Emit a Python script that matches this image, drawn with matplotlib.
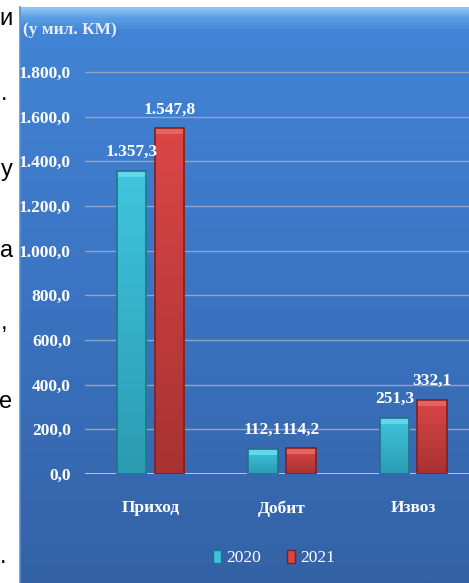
import numpy as np
import matplotlib.pyplot as plt
from matplotlib.colors import LinearSegmentedColormap
from matplotlib.patches import Patch, Rectangle

# data
categories = ['Приход', 'Добит', 'Извоз']
years = ['2020', '2021']
values_2020 = [1357.3, 112.1, 251.3]
values_2021 = [1547.8, 114.2, 332.1]
labels_2020 = ['1.357,3', '112,1', '251,3']
labels_2021 = ['1.547,8', '114,2', '332,1']
yticks = [0, 200, 400, 600, 800, 1000, 1200, 1400, 1600, 1800]
ytick_labels = ['0,0', '200,0', '400,0', '600,0', '800,0', '1.000,0',
                '1.200,0', '1.400,0', '1.600,0', '1.800,0']
unit_label = '(у мил. КМ)'

# line ends of the surrounding document text (left margin)
side_chars = ['и', '.', 'у', 'а', ',', 'е', '.']
side_x = [13, 7, 13, 13, 7, 12, 6]
side_base = [25, 100, 176, 257, 329, 408, 563]

W, H = 469, 583
fig = plt.figure(figsize=(W / 100, H / 100), dpi=100)
fig.patch.set_facecolor('white')

serif = 'Liberation Serif'
fs = 12.5

# blue panel with gradient
bg = fig.add_axes([20 / W, 0, (W - 20) / W, 576 / H])
bg_cmap = LinearSegmentedColormap.from_list(
    'bg', [(0.0, '#3462a6'), (0.5, '#3b74c2'), (0.96, '#4284d5'),
           (0.985, '#5d9fe6'), (1.0, '#8cc3f3')])
bg.imshow(np.linspace(0, 1, 600).reshape(-1, 1), cmap=bg_cmap, origin='lower',
          aspect='auto', extent=(0, 1, 0, 1))
bg.set_axis_off()
fig.add_artist(plt.Line2D([20 / W, 20 / W], [0, 576 / H], color='#5a8fd6', lw=1.2))

for ch, x, yb in zip(side_chars, side_x, side_base):
    fig.text(x / W, 1 - yb / H, ch, ha='right', va='baseline',
             fontsize=17, family='Liberation Sans', color='black')

# plot area
y0_px, ytop = 474, 1900
scale = (474 - 72) / 1800
left = 84.75
ax = fig.add_axes([left / W, (H - y0_px) / H, (479 - left) / W, ytop * scale / H])
ax.patch.set_alpha(0)

x = np.arange(len(categories))
bw = 0.224
off = 0.144
cap = 6 / scale

series = [
    (values_2020, labels_2020, -off, '#3fc6de', '#2b9bb1', '#62d6ec', '#1e7488'),
    (values_2021, labels_2021, off, '#db4646', '#a83232', '#e86260', '#7e2020'),
]

for vals, labs, dx, top_c, bot_c, cap_c, edge_c in series:
    bars = ax.bar(x + dx, vals, bw, color='none', edgecolor=edge_c, lw=1.2, zorder=4)
    cmap = LinearSegmentedColormap.from_list('b', [bot_c, top_c])
    for b in bars:
        bx, by = b.get_xy()
        bh = b.get_height()
        im = ax.imshow(np.linspace(0, 1, 100).reshape(-1, 1), cmap=cmap, origin='lower',
                       aspect='auto', extent=(bx, bx + bw, by, by + bh), zorder=3)
        im.set_clip_path(b)
        ax.add_patch(Rectangle((bx, by + bh - cap), bw, cap,
                               facecolor=cap_c, edgecolor='none', zorder=3.5))
    for xi, v, t in zip(x + dx, vals, labs):
        ax.annotate(t, (xi, v), xytext=(0, 13.5), textcoords='offset points',
                    ha='center', va='center', fontsize=fs, family=serif,
                    fontweight='bold', color='white', zorder=6)

ax.set_xlim(-0.5, 2.5)
ax.set_ylim(0, ytop)
ax.set_yticks(yticks)
ax.set_yticklabels(ytick_labels)
ax.set_xticks(x)
ax.set_xticklabels(categories)
for s in ax.spines.values():
    s.set_visible(False)
ax.tick_params(axis='y', length=0, pad=10, labelcolor='white', labelsize=fs)
ax.tick_params(axis='x', length=0, pad=19, labelcolor='white', labelsize=fs)
for lab in ax.get_xticklabels() + ax.get_yticklabels():
    lab.set_family(serif)
    lab.set_fontweight('bold')
ax.yaxis.grid(True, color='#8da5c6', lw=1)
ax.set_axisbelow(True)
ax.axhline(0, color='#c9d5e6', lw=1.2, zorder=2)

fig.text(23 / W, 1 - 30 / H, unit_label, ha='left', va='center', fontsize=fs,
         family=serif, fontweight='bold', color='#e8eef7')

handles = [Patch(facecolor='#3cc4dc', edgecolor='#1e7488'),
           Patch(facecolor='#d94444', edgecolor='#7e2020')]
leg = fig.legend(handles, years, loc='center', bbox_to_anchor=(274 / W, 1 - 558 / H),
                 ncol=2, frameon=False, handlelength=0.45, handleheight=0.85,
                 handletextpad=0.3, columnspacing=1.5,
                 prop={'family': serif, 'size': fs})
for t in leg.get_texts():
    t.set_color('white')

fig.savefig('out.png', dpi=100)
